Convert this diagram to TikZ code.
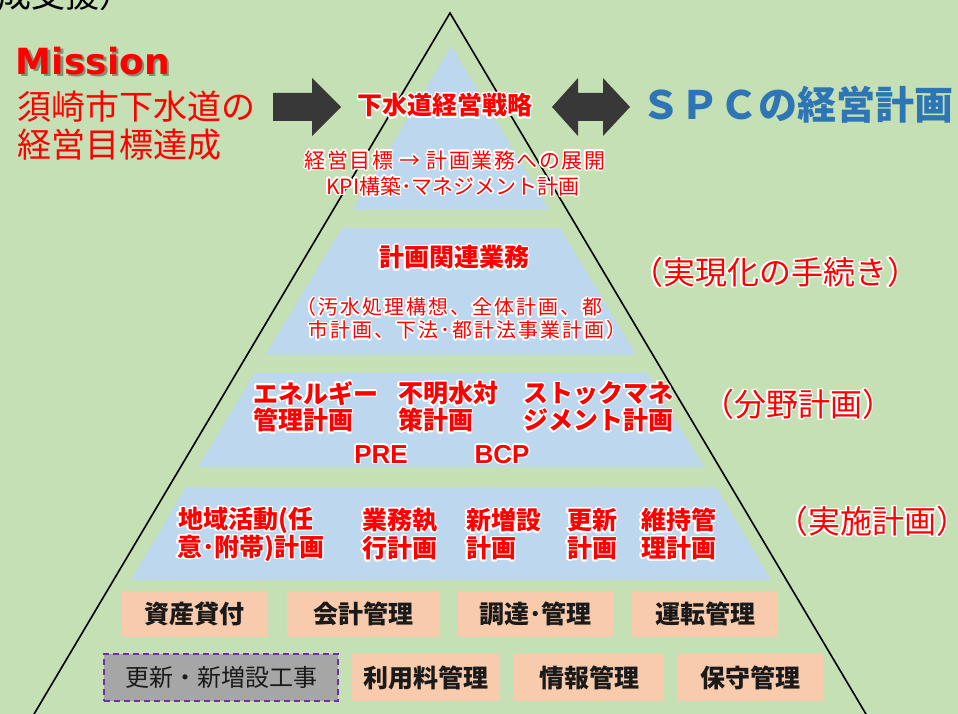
\documentclass[tikz,border=0pt]{standalone}
\usepackage{fontspec}
\setmainfont{Noto Sans CJK JP}
\newfontfamily\jpsp[LetterSpace=7]{Noto Sans CJK JP}
\newfontfamily\jpspb[LetterSpace=10]{Noto Sans CJK JP}
\newfontfamily\dvs{DejaVu Sans}
\newfontfamily\lib{Liberation Sans}
\usepackage[copies]{contour}
\contourlength{1.4pt}
\contournumber{24}
\definecolor{bgc}{HTML}{C5E0B4}
\definecolor{bluec}{HTML}{BDD7EE}
\definecolor{redc}{HTML}{FF0000}
\definecolor{salmon}{HTML}{F8CBAD}
\definecolor{grayb}{HTML}{A6A6A6}
\definecolor{purp}{HTML}{7030A0}
\definecolor{arrc}{HTML}{383838}
\definecolor{spcc}{HTML}{2E75B6}
\definecolor{boxtext}{HTML}{1A1A1A}
\newcommand\fsz[1]{\fontsize{#1}{#1}\selectfont}
\newcommand\gw[1]{\contour{white}{#1}}
\begin{document}
\begin{tikzpicture}[x=1pt,y=-1pt,
  txt/.style={inner sep=0pt, outer sep=0pt},
  rb/.style={txt, text=redc, font=\fsz{25}\bfseries},
  rs/.style={txt, text=redc, font=\jpsp\fsz{21}},
  side/.style={txt, text=redc, font=\fsz{32}},
  sbox/.style={fill=salmon, inner sep=0pt, font=\fsz{25}\bfseries, text=boxtext},
  tier/.style={fill=bluec},
]
\useasboundingbox (0,0) rectangle (958,714);
\clip (0,0) rectangle (958,714);
\fill[bgc] (0,0) rectangle (958,714);

% blue pyramid tiers
\fill[tier] (451,46) -- (549.4,210) -- (352.6,210) -- cycle;
\fill[tier] (342,228) -- (560,228) -- (636.4,355) -- (265.6,355) -- cycle;
\fill[tier] (255,373) -- (647,373) -- (704,467) -- (198,467) -- cycle;
\fill[tier] (186,487) -- (716,487) -- (771,580) -- (131,580) -- cycle;

% outer triangle
\draw[line width=1.6pt, black] (24,731) -- (450,13) -- (876,731);

% block arrows
\fill[arrc] (273,93) -- (312,93) -- (312,78) -- (341,107) -- (312,136) -- (312,121) -- (273,121) -- cycle;
\fill[arrc] (552,107) -- (578,78) -- (578,93) -- (603,93) -- (603,78) -- (630,107) -- (603,136) -- (603,121) -- (578,121) -- (578,136) -- cycle;

% cut-off title
\node[txt, anchor=east, font=\fsz{34}, text=black] (cut) at (134,-5) {成支援）};

% Mission block
\node[txt, anchor=west, font=\dvs\fsz{36}\bfseries, text=black, opacity=0.35] (missionsh) at (18.5,63) {Mission};
\node[txt, anchor=west, font=\dvs\fsz{36}\bfseries, text=redc] (mission) at (16,61) {Mission};
\node[txt, anchor=west, font=\fsz{34}, text=redc] (ml1) at (17,107) {須崎市下水道の};
\node[txt, anchor=west, font=\fsz{34}, text=redc] (ml2) at (17,145) {経営目標達成};

% SPC
\node[txt, anchor=west, font=\fsz{39}\bfseries, text=spcc] (spc) at (641,105) {ＳＰＣの経営計画};

% tier 1
\node[rb] (strat) at (445,106) {\gw{下水道経営戦略}};
\node[rs] (t1a) at (455,161) {\gw{経営目標 → 計画業務への展開}};
\node[txt, text=redc, font=\fsz{21}] (t1b) at (453,187) {\gw{KPI構築･マネジメント計画}};

% tier 2
\node[rb] (t2) at (454,258) {\gw{計画関連業務}};
\node[txt, text=redc, font=\jpspb\fsz{20}, anchor=west] (t2a) at (296,308) {\gw{（汚水処理構想、全体計画、都}};
\node[txt, text=redc, font=\jpspb\fsz{20}, anchor=west] (t2b) at (308,331) {\gw{市計画、下法･都計法事業計画）}};

% tier 3
\node[rb, anchor=west] (e1) at (253,394) {\gw{エネルギー}};
\node[rb, anchor=west] (e2) at (253,421) {\gw{管理計画}};
\node[rb, anchor=west] (f1) at (398,394) {\gw{不明水対}};
\node[rb, anchor=west] (f2) at (398,421) {\gw{策計画}};
\node[rb, anchor=west] (s1) at (523,394) {\gw{ストックマネ}};
\node[rb, anchor=west] (s2) at (523,421) {\gw{ジメント計画}};
\node[txt, text=redc, font=\lib\fsz{26}\bfseries] (pre) at (381,455) {\gw{PRE}};
\node[txt, text=redc, font=\lib\fsz{26}\bfseries] (bcp) at (502,455) {\gw{BCP}};

% tier 4
\node[rb, anchor=west] (c1a) at (178,521) {\gw{地域活動(任}};
\node[rb, anchor=west] (c1b) at (177,549) {\gw{意･附帯)計画}};
\node[rb, anchor=west] (c2a) at (362,521) {\gw{業務執}};
\node[rb, anchor=west] (c2b) at (362,549) {\gw{行計画}};
\node[rb, anchor=west] (c3a) at (466,521) {\gw{新増設}};
\node[rb, anchor=west] (c3b) at (466,549) {\gw{計画}};
\node[rb, anchor=west] (c4a) at (567,521) {\gw{更新}};
\node[rb, anchor=west] (c4b) at (567,549) {\gw{計画}};
\node[rb, anchor=west] (c5a) at (641,521) {\gw{維持管}};
\node[rb, anchor=west] (c5b) at (641,549) {\gw{理計画}};

% right side labels
\node[side] (r1) at (775,273) {\gw{（実現化の手続き）}};
\node[side] (r2) at (798,405) {\gw{（分野計画）}};
\node[side] (r3) at (872,522) {\gw{（実施計画）}};

% bottom boxes
\node[sbox, minimum width=145pt, minimum height=46pt] (b1) at (194.5,614) {資産貸付};
\node[sbox, minimum width=153pt, minimum height=46pt] (b2) at (363.5,614) {会計管理};
\node[sbox, minimum width=155pt, minimum height=46pt] (b3) at (535.5,614) {調達･管理};
\node[sbox, minimum width=146pt, minimum height=46pt] (b4) at (705,614) {運転管理};
\node[fill=grayb, draw=purp, line width=1.5pt, dash pattern=on 6pt off 4pt, inner sep=0pt, minimum width=234pt, minimum height=47pt, font=\fsz{24}, text=boxtext] (g) at (221,677.5) {更新・新増設工事};
\node[sbox, minimum width=148pt, minimum height=47pt] (b5) at (426,677.5) {利用料管理};
\node[sbox, minimum width=150pt, minimum height=47pt] (b6) at (589,677.5) {情報管理};
\node[sbox, minimum width=145pt, minimum height=47pt] (b7) at (750.5,677.5) {保守管理};
\end{tikzpicture}
\end{document}
